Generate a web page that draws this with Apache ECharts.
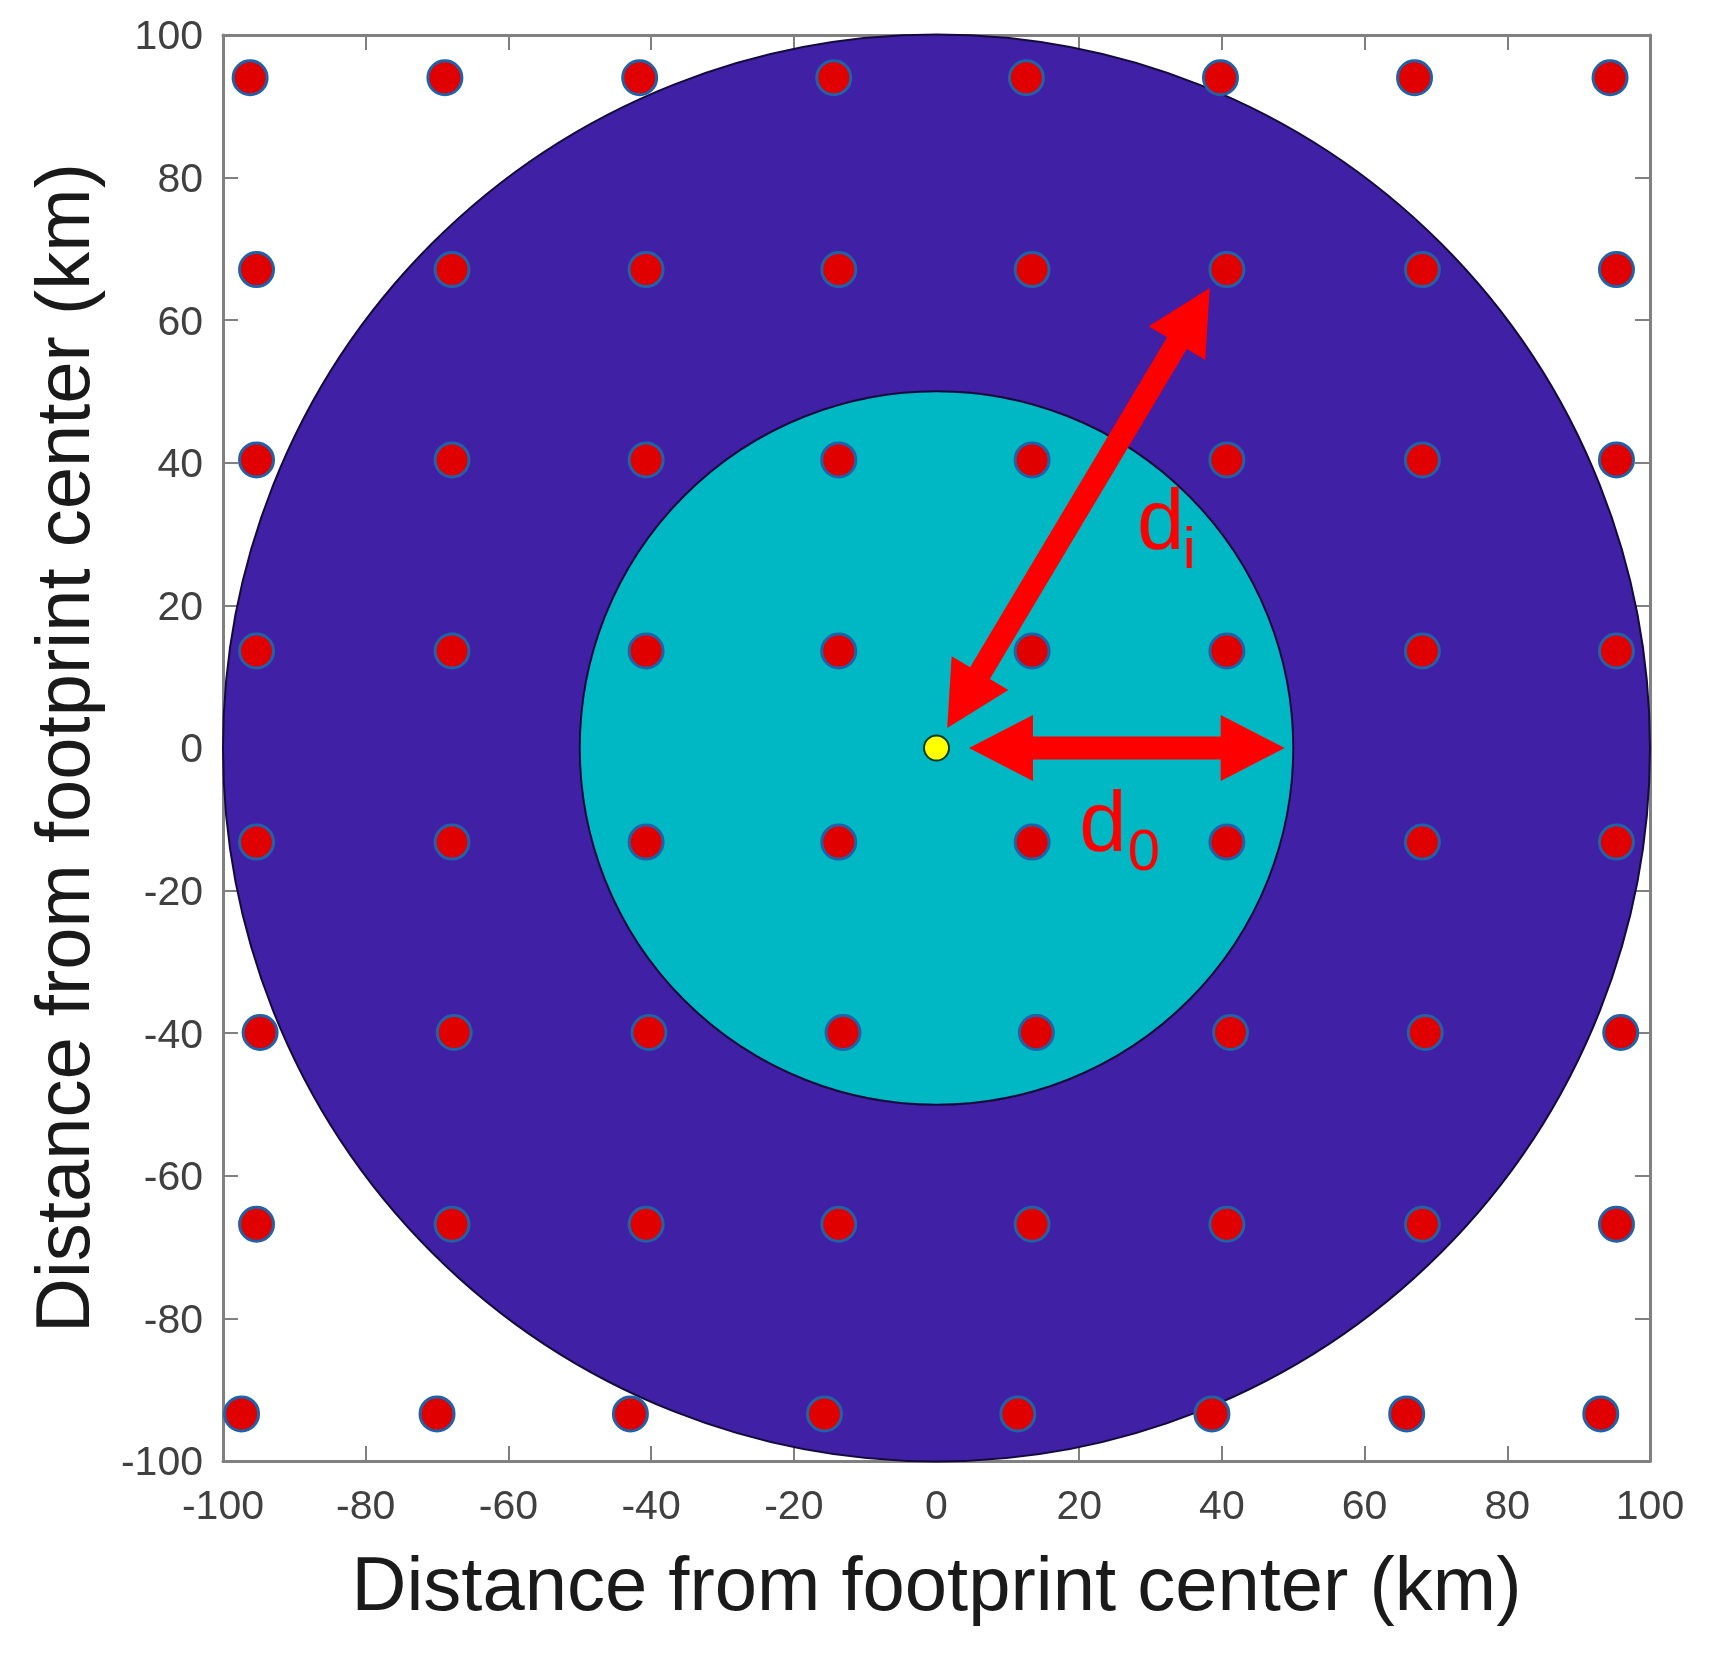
<!DOCTYPE html>
<html>
<head>
<meta charset="utf-8">
<title>Footprint</title>
<script src="https://cdn.jsdelivr.net/npm/echarts@6/dist/echarts.min.js"></script>
<style>
html, body { margin: 0; padding: 0; background: #fff; }
#main { width: 1710px; height: 1653px; filter: blur(0.6px); }
</style>
</head>
<body>
<div id="main"></div>
<script>
// 足迹内的采样点：每行一个 y 值，对应一组 x 值
var rowY = [94.0, 67.1, 40.4, 13.6, -13.2, -39.9, -66.8, -93.4];
var rowX1 = [-96.2, -68.9, -41.6, -14.4, 12.6, 39.8, 67.0, 94.4];
var rowX2 = [-95.3, -67.9, -40.7, -13.7, 13.4, 40.7, 68.1, 95.3];
var rowX3 = [-94.8, -67.6, -40.3, -13.1, 14.0, 41.2, 68.5, 95.9];
var rowX4 = [-97.4, -70.0, -42.9, -15.7, 11.4, 38.6, 65.9, 93.1];
var rowXs = [rowX1, rowX2, rowX2, rowX2, rowX2, rowX3, rowX2, rowX4];

var centerPoint = [0, 0];
var circleRadii = [100, 50];
var circleColors = ['#4020a5', '#00b8c4'];

// 双向箭头的两端 [x1, y1, x2, y2]
var arrowDi = [1.5, 2.8, 38.3, 64.5];
var arrowD0 = [4.55, 0, 48.8, 0];

var labelTexts = ['d', 'i', 'd', '0'];
var labelX = [28.1, 34.5, 20.0, 26.8];
var labelY = [31.2, 27.5, -11.1, -14.9];

var axisTitle = 'Distance from footprint center (km)';

var dots = [];
for (var i = 0; i < rowY.length; i++) {
    for (var j = 0; j < rowXs[i].length; j++) {
        dots.push([rowXs[i][j], rowY[i]]);
    }
}

var circleData = [];
for (var c = 0; c < circleRadii.length; c++) {
    circleData.push([centerPoint[0], centerPoint[1], circleRadii[c]]);
}

var labelData = [];
for (var k = 0; k < labelTexts.length; k++) {
    labelData.push([labelX[k], labelY[k], labelTexts[k]]);
}

function renderCircle(params, api) {
    var center = api.coord([api.value(0), api.value(1)]);
    var r = api.size([api.value(2), api.value(2)]);
    return {
        type: 'circle',
        shape: { cx: center[0], cy: center[1], r: r[0] },
        style: {
            fill: circleColors[params.dataIndex],
            stroke: '#140a3c',
            lineWidth: 2
        }
    };
}

// 箭头是屏幕上的多边形，两端位置来自坐标轴
function renderArrow(params, api) {
    var a = api.coord([api.value(0), api.value(1)]);
    var b = api.coord([api.value(2), api.value(3)]);
    var dx = b[0] - a[0];
    var dy = b[1] - a[1];
    var len = Math.sqrt(dx * dx + dy * dy);
    var ux = dx / len, uy = dy / len;
    var nx = -uy, ny = ux;
    var headLen = 64, headW = 33, shaftW = 11.5;
    function pt(along, side) {
        return [a[0] + ux * along + nx * side, a[1] + uy * along + ny * side];
    }
    return {
        type: 'polygon',
        shape: {
            points: [
                pt(0, 0),
                pt(headLen, headW),
                pt(headLen, shaftW),
                pt(len - headLen, shaftW),
                pt(len - headLen, headW),
                pt(len, 0),
                pt(len - headLen, -headW),
                pt(len - headLen, -shaftW),
                pt(headLen, -shaftW),
                pt(headLen, -headW)
            ]
        },
        style: { fill: '#ff0000' }
    };
}

function renderLabel(params, api) {
    var p = api.coord([api.value(0), api.value(1)]);
    var big = params.dataIndex % 2 == 0;
    return {
        type: 'text',
        x: p[0],
        y: p[1],
        style: {
            text: labelData[params.dataIndex][2],
            fill: '#ff0000',
            font: (big ? 85 : 58) + 'px "Liberation Sans"',
            textAlign: 'left',
            textVerticalAlign: 'middle'
        }
    };
}

var tickLabelStyle = {
    color: '#404040',
    fontSize: 41,
    fontFamily: 'Liberation Sans'
};
var axisLine = { show: true, onZero: false, lineStyle: { color: '#808080', width: 3 } };
var axisTick = { show: true, inside: true, length: 15, lineStyle: { color: '#808080', width: 2 } };

function makeAxis(position, isMain, extra) {
    var axis = {
        type: 'value',
        position: position,
        min: -100,
        max: 100,
        interval: 20,
        axisLine: axisLine,
        axisTick: axisTick,
        splitLine: { show: false },
        axisLabel: { show: false }
    };
    if (isMain) {
        axis.name = axisTitle;
        axis.nameLocation = 'middle';
        axis.nameTextStyle = { color: '#1a1a1a', fontSize: 76, fontFamily: 'Liberation Sans' };
        axis.axisLabel = Object.assign({ show: true, showMinLabel: true, showMaxLabel: true }, tickLabelStyle, extra.label);
        axis.nameGap = extra.nameGap;
    }
    return axis;
}

var chart = echarts.init(document.getElementById('main'));

var option = {
    animation: false,
    backgroundColor: '#ffffff',
    grid: { left: 223, top: 35, width: 1427, height: 1426 },
    xAxis: [
        makeAxis('bottom', true, { label: { margin: 26 }, nameGap: 90 }),
        makeAxis('top', false)
    ],
    yAxis: [
        makeAxis('left', true, {
            label: {
                margin: 20,
                formatter: '{t|{value}}',
                rich: { t: Object.assign({ padding: [6, 0, 0, 0] }, tickLabelStyle) }
            },
            nameGap: 117
        }),
        makeAxis('right', false)
    ],
    series: [
        {
            type: 'custom',
            name: 'footprint',
            renderItem: renderCircle,
            data: circleData,
            clip: false,
            z: 2
        },
        {
            type: 'scatter',
            name: 'samples',
            data: dots,
            symbol: 'circle',
            symbolSize: 34,
            clip: false,
            itemStyle: { color: '#e00000', borderColor: '#1f62a8', borderWidth: 3, opacity: 1 },
            z: 3
        },
        {
            type: 'scatter',
            name: 'center',
            data: [centerPoint],
            symbol: 'circle',
            symbolSize: 25,
            itemStyle: { color: '#ffff00', borderColor: '#0a3a30', borderWidth: 2, opacity: 1 },
            z: 4
        },
        {
            type: 'custom',
            name: 'arrows',
            renderItem: renderArrow,
            data: [arrowDi, arrowD0],
            clip: false,
            z: 5
        },
        {
            type: 'custom',
            name: 'labels',
            renderItem: renderLabel,
            data: labelData,
            encode: { x: 0, y: 1 },
            clip: false,
            z: 6
        }
    ]
};

chart.setOption(option);
</script>
</body>
</html>
